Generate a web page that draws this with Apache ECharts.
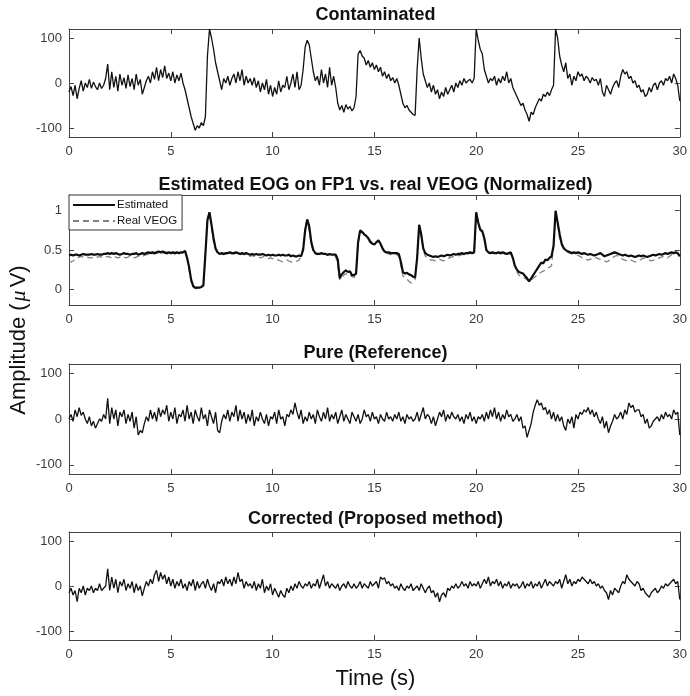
<!DOCTYPE html>
<html>
<head>
<meta charset="utf-8">
<script src="https://cdn.jsdelivr.net/npm/echarts@6/dist/echarts.min.js"></script>
<style>html,body{margin:0;padding:0;background:#fff}#c{width:690px;height:696px}</style>
</head>
<body>
<div id="c"></div>
<script>
// sampling step of all signals (seconds)
var sampleStep = 0.1;
var xTicks = [0, 5, 10, 15, 20, 25, 30];
var yTicksUV = [-100, 0, 100];
var yTicksNorm = [0, 0.5, 1];
var panelTitles = ['Contaminated', 'Estimated EOG on FP1 vs. real VEOG (Normalized)', 'Pure (Reference)', 'Corrected (Proposed method)'];
var seriesNames = ['Estimated', 'Real VEOG'];

var contaminated = [
-20,-8,-28,-5,-35,-12,5,-18,0,-10,
8,-12,2,-8,-15,0,-12,-5,10,42,
-15,25,-10,15,-18,20,-5,12,-12,18,
-8,10,-15,20,-5,8,-25,-10,5,15,
0,25,8,35,5,30,12,38,10,22,
5,25,0,18,5,22,0,-15,-35,-55,
-75,-90,-105,-95,-100,-88,-95,-75,60,120,
100,75,45,25,5,-15,10,0,15,-5,
10,20,0,25,5,30,-5,15,0,10,
-5,12,-10,5,-20,0,-15,8,-25,-5,
-30,-10,-25,5,-20,-5,-10,15,-15,0,
20,-10,25,-15,-5,30,80,95,85,55,
25,5,15,-5,30,0,20,-10,35,-5,
15,-10,-45,-60,-50,-65,-48,-58,-52,-62,
-55,-30,65,72,60,55,40,50,35,45,
30,40,25,35,15,25,10,20,5,12,
0,10,-5,-25,-45,-55,-50,-60,-65,-70,
-72,30,100,55,20,5,-10,0,-20,-5,
-25,-15,-35,-20,-30,-10,-25,-15,-5,-20,
0,-10,5,-5,10,0,5,8,0,10,
120,95,75,65,30,15,0,10,5,15,
-5,10,0,15,5,25,0,10,-10,-20,
-30,-40,-50,-45,-60,-70,-85,-65,-70,-55,
-45,-35,-40,-25,-30,-20,-28,-15,-5,120,
100,60,40,25,45,10,20,-5,15,5,
25,15,20,5,15,10,0,12,5,8,
-5,10,-20,-30,-5,-15,-25,-10,0,5,
-10,15,30,20,25,10,15,0,5,-10,
-5,-20,-15,-30,-25,-10,-20,-5,0,-15,
0,5,-5,10,5,15,0,20,10,-5,
-40];

var estimated = [
.43,.44,.43,.44,.44,.43,.44,.45,.44,.44,
.44,.45,.44,.44,.45,.44,.44,.45,.45,.46,
.45,.46,.45,.46,.45,.44,.45,.46,.45,.45,
.44,.45,.45,.46,.44,.45,.46,.45,.46,.47,
.46,.47,.46,.47,.48,.47,.48,.47,.46,.47,
.46,.47,.46,.47,.46,.47,.47,.49,.40,.28,
.12,.04,.02,.02,.02,.03,.05,.45,.88,.98,
.82,.65,.52,.47,.45,.46,.45,.46,.46,.47,
.46,.46,.47,.46,.45,.46,.45,.46,.45,.44,
.45,.44,.45,.44,.44,.45,.44,.43,.44,.43,
.44,.43,.43,.44,.43,.44,.43,.43,.44,.42,
.43,.42,.42,.43,.42,.50,.75,.89,.80,.60,
.50,.46,.45,.45,.46,.45,.45,.44,.45,.44,
.44,.44,.38,.14,.19,.22,.24,.22,.23,.18,
.18,.20,.60,.75,.73,.70,.68,.65,.60,.58,
.57,.60,.62,.58,.52,.48,.47,.47,.46,.46,
.46,.46,.45,.35,.22,.20,.21,.19,.18,.16,
.15,.40,.82,.70,.52,.46,.44,.43,.42,.41,
.42,.41,.42,.43,.42,.43,.44,.43,.44,.45,
.44,.45,.45,.46,.45,.46,.46,.47,.46,.47,
.98,.85,.76,.74,.65,.50,.47,.46,.47,.46,
.46,.47,.46,.47,.46,.45,.46,.47,.40,.30,
.25,.22,.21,.20,.17,.14,.10,.14,.18,.22,
.26,.30,.34,.33,.38,.37,.40,.42,.55,1.0,
.85,.70,.58,.52,.50,.48,.47,.46,.47,.46,
.47,.46,.45,.46,.45,.44,.45,.44,.43,.44,
.45,.46,.44,.42,.43,.44,.45,.46,.47,.46,
.45,.44,.43,.44,.43,.42,.43,.42,.41,.42,
.43,.42,.43,.42,.41,.42,.43,.44,.43,.44,
.45,.44,.45,.46,.45,.46,.47,.46,.47,.46,
.42];

var realVEOG = [
.35,.35,.36,.38,.40,.41,.42,.41,.40,.41,
.40,.40,.41,.40,.41,.42,.41,.40,.41,.42,
.41,.40,.42,.41,.40,.41,.42,.41,.40,.41,
.42,.41,.40,.41,.42,.43,.42,.43,.44,.44,
.44,.45,.45,.46,.46,.45,.46,.46,.45,.46,
.45,.46,.45,.46,.46,.46,.47,.48,.40,.25,
.10,.03,.01,.01,.02,.02,.05,.45,.90,.97,
.80,.60,.50,.46,.45,.45,.44,.45,.45,.46,
.45,.45,.46,.45,.44,.45,.44,.44,.43,.42,
.43,.42,.42,.41,.40,.41,.42,.40,.39,.40,
.39,.38,.38,.37,.36,.35,.36,.37,.36,.35,
.34,.35,.36,.37,.42,.55,.80,.88,.75,.58,
.48,.45,.44,.45,.45,.44,.45,.43,.44,.43,
.43,.42,.30,.12,.15,.18,.20,.18,.19,.16,
.15,.18,.58,.72,.72,.70,.68,.66,.62,.60,
.58,.60,.63,.60,.52,.47,.46,.45,.44,.44,
.45,.44,.42,.30,.17,.15,.13,.10,.08,.10,
.12,.45,.80,.68,.50,.42,.40,.38,.37,.37,
.36,.37,.38,.37,.36,.38,.39,.40,.41,.42,
.42,.43,.43,.44,.44,.45,.45,.46,.46,.47,
.97,.85,.75,.72,.63,.50,.47,.46,.46,.46,
.45,.46,.45,.46,.45,.44,.45,.45,.40,.30,
.22,.18,.16,.15,.14,.12,.10,.12,.14,.16,
.18,.20,.22,.23,.25,.27,.28,.30,.55,.98,
.82,.65,.56,.53,.52,.50,.48,.46,.45,.44,
.43,.42,.40,.39,.38,.37,.38,.40,.41,.40,
.39,.38,.37,.36,.35,.36,.38,.40,.42,.43,
.42,.40,.38,.37,.36,.36,.37,.36,.35,.35,
.36,.38,.40,.39,.38,.37,.36,.37,.38,.39,
.40,.41,.42,.41,.40,.42,.44,.45,.46,.45,
.44];

var pure = [
0,10,-5,20,5,25,8,15,0,-10,
5,-15,-5,-20,-10,0,-5,10,0,45,
-10,25,0,20,-15,15,5,20,-10,10,
-5,15,-20,5,-35,-25,-30,-10,5,-5,
20,0,15,-5,25,5,20,10,30,-5,
15,0,25,-10,10,5,20,-5,30,0,
15,-10,20,5,-5,25,0,10,-15,20,
5,-10,15,-25,-30,-5,10,0,20,-5,
15,5,30,-5,20,0,15,-10,10,-5,
20,-15,5,-5,15,0,-10,10,-15,5,
0,15,-10,20,0,5,-15,10,5,20,
10,35,15,0,20,-10,5,-5,15,0,
10,-10,20,5,-5,15,0,25,-5,10,
0,15,-10,5,20,-5,10,0,-10,15,
5,-5,10,-10,0,20,5,10,-5,15,
0,5,-10,10,0,-5,15,0,5,-5,
10,0,15,-5,5,-10,10,0,5,-5,
0,15,-5,10,25,0,10,5,-10,5,
-15,0,15,5,20,-5,10,0,15,5,
0,10,-5,5,-10,10,0,15,-5,5,
-10,5,0,10,-5,15,0,20,5,25,
0,15,-5,10,0,20,5,10,-5,0,
10,-5,5,-20,-15,-40,-25,-10,15,30,
42,30,35,20,25,10,20,0,15,-5,
10,-5,5,-15,-25,0,-10,5,-20,10,
0,15,10,20,15,25,10,20,5,15,
0,-10,5,-20,-5,-30,-15,-5,10,0,
5,15,0,20,10,35,25,30,15,20,
20,5,10,-10,0,-20,-15,-5,0,5,
-5,10,0,15,5,10,0,20,10,15,
-35];

var corrected = [
-15,-5,-20,-10,-35,-5,-15,0,-20,-5,
-10,0,-15,-5,-10,5,-10,-5,0,38,
-10,20,-5,15,-15,10,0,15,-10,5,
-5,10,-15,5,-10,0,-22,-5,10,0,
15,5,25,35,10,30,15,25,5,20,
0,15,-5,10,0,15,-5,5,-10,10,
0,15,-10,10,-5,5,10,-5,15,0,
-10,5,-15,10,5,15,0,20,5,15,
0,20,5,30,10,15,-5,10,0,5,
-5,10,-10,5,-5,15,-15,0,-10,5,
-20,-5,-15,-25,-10,-20,-25,-5,-15,0,
-10,5,-5,10,0,-5,5,0,10,-5,
5,0,15,-5,10,25,0,10,-5,5,
0,-5,5,-10,0,5,-5,10,0,-5,
5,-5,0,10,-5,5,0,-5,10,0,
5,10,-5,20,15,18,5,10,0,5,
-5,0,-10,5,-5,-10,0,-5,5,-10,
-5,0,-10,5,-5,-15,-5,0,-15,-10,
-25,-15,-35,-20,-15,-25,-5,-10,0,-5,
5,-5,0,10,0,5,-5,10,0,5,
0,10,-5,5,15,5,20,0,10,5,
15,0,10,-5,5,0,10,-5,5,0,
5,-5,0,10,-5,5,0,10,-5,5,
0,10,-5,5,15,0,10,5,0,10,
5,15,-5,10,25,5,15,0,10,5,
15,10,20,15,10,5,15,5,10,0,
5,-5,0,-10,-15,-30,-10,-20,-5,-10,
-15,0,10,5,25,15,10,5,0,10,
5,-10,-5,-15,-20,-25,-15,-10,-5,-15,
-10,0,-5,5,0,5,10,15,5,10,
-30];

function pairs(arr) {
  return arr.map(function (v, i) { return [+(i * sampleStep).toFixed(2), v]; });
}

var FONT = 'Liberation Sans, Arial, Helvetica, sans-serif';
var AX = '#444';
var grids = [
  {left: 69, right: 8, top: 29, height: 108},
  {left: 69, right: 8, top: 195, height: 110},
  {left: 69, right: 8, top: 364, height: 110},
  {left: 69, right: 8, top: 532, height: 108}
];
var titleY = [15, 185, 353, 519];

var xAxes = [], yAxes = [];
grids.forEach(function (g, gi) {
  var norm = gi === 1;
  var ymin = norm ? -0.2 : -120, ymax = norm ? 1.2 : 120;
  var yt = norm ? yTicksNorm : yTicksUV;
  xAxes.push({
    type: 'value', gridIndex: gi, position: 'bottom', min: 0, max: 30, interval: 5,
    axisLine: {show: true, onZero: false, lineStyle: {color: AX, width: 1}},
    axisTick: {show: true, inside: true, length: 5, lineStyle: {color: AX}, customValues: xTicks},
    axisLabel: {show: true, color: '#3a3a3a', fontSize: 13, fontFamily: FONT, margin: 8, customValues: xTicks},
    splitLine: {show: false}
  });
  xAxes.push({
    type: 'value', gridIndex: gi, position: 'top', min: 0, max: 30, interval: 5,
    axisLine: {show: true, onZero: false, lineStyle: {color: AX, width: 1}},
    axisTick: {show: true, inside: true, length: 5, lineStyle: {color: AX}, customValues: xTicks},
    axisLabel: {show: false}, splitLine: {show: false}
  });
  yAxes.push({
    type: 'value', gridIndex: gi, position: 'left', min: ymin, max: ymax,
    axisLine: {show: true, onZero: false, lineStyle: {color: AX, width: 1}},
    axisTick: {show: true, inside: true, length: 5, lineStyle: {color: AX}, customValues: yt},
    axisLabel: {show: true, color: '#3a3a3a', fontSize: 13, fontFamily: FONT, margin: 7, customValues: yt},
    splitLine: {show: false}
  });
  yAxes.push({
    type: 'value', gridIndex: gi, position: 'right', min: ymin, max: ymax,
    axisLine: {show: true, onZero: false, lineStyle: {color: AX, width: 1}},
    axisTick: {show: true, inside: true, length: 5, lineStyle: {color: AX}, customValues: yt},
    axisLabel: {show: false}, splitLine: {show: false}
  });
});

function sig(name, data, gi, extra) {
  var s = {
    name: name, type: 'line', xAxisIndex: gi * 2, yAxisIndex: gi * 2,
    data: pairs(data), showSymbol: false, symbol: 'none', clip: true,
    lineStyle: {color: '#111', width: 1.3}, itemStyle: {color: '#111'},
    animation: false, silent: true
  };
  if (extra) { for (var k in extra) s[k] = extra[k]; }
  return s;
}

var graphics = panelTitles.map(function (t, i) {
  return {
    type: 'text', x: 375.5, y: titleY[i], silent: true,
    style: {text: t, fill: '#111', fontSize: 18, fontWeight: 'bold', fontFamily: FONT,
      textAlign: 'center', verticalAlign: 'middle', textVerticalAlign: 'middle'}
  };
});
graphics.push({
  type: 'text', x: 375.5, y: 679, silent: true,
  style: {text: 'Time (s)', fill: '#111', fontSize: 22, fontFamily: FONT,
    textAlign: 'center', verticalAlign: 'middle', textVerticalAlign: 'middle'}
});
graphics.push({
  type: 'text', x: 19, y: 340, rotation: Math.PI / 2, silent: true,
  style: {
    text: '{a|Amplitude (}{b|μ}{a|V)}', textAlign: 'center', verticalAlign: 'middle', textVerticalAlign: 'middle',
    rich: {
      a: {fontSize: 22, fontFamily: FONT, fill: '#111', color: '#111'},
      b: {fontSize: 22, fontFamily: 'Liberation Serif, DejaVu Serif, serif', fontStyle: 'italic', fill: '#111', color: '#111', padding: [0, 3, 0, 2]}
    }
  }
});

var option = {
  backgroundColor: '#fff',
  animation: false,
  grid: grids,
  xAxis: xAxes,
  yAxis: yAxes,
  legend: {
    data: [seriesNames[0], seriesNames[1]],
    orient: 'vertical', left: 69, top: 195,
    itemWidth: 42, itemHeight: 10, itemGap: 4,
    padding: [4, 5, 3, 3],
    itemStyle: {opacity: 0},
    backgroundColor: '#fff', borderColor: '#333', borderWidth: 1, borderRadius: 0,
    textStyle: {fontSize: 11.5, fontFamily: FONT, color: '#111', padding: [0, 0, 0, -3]},
    selectedMode: false
  },
  series: [
    sig('Contaminated', contaminated, 0),
    sig(seriesNames[1], realVEOG, 1, {lineStyle: {color: '#808080', width: 1.3, type: [6, 4]}, itemStyle: {color: '#808080'}}),
    sig(seriesNames[0], estimated, 1, {lineStyle: {color: '#0d0d0d', width: 2.2}, itemStyle: {color: '#0d0d0d'}}),
    sig('Pure', pure, 2),
    sig('Corrected', corrected, 3)
  ],
  graphic: graphics
};

var chart = echarts.init(document.getElementById('c'), null, {renderer: 'canvas'});
chart.setOption(option);
</script>
</body>
</html>
